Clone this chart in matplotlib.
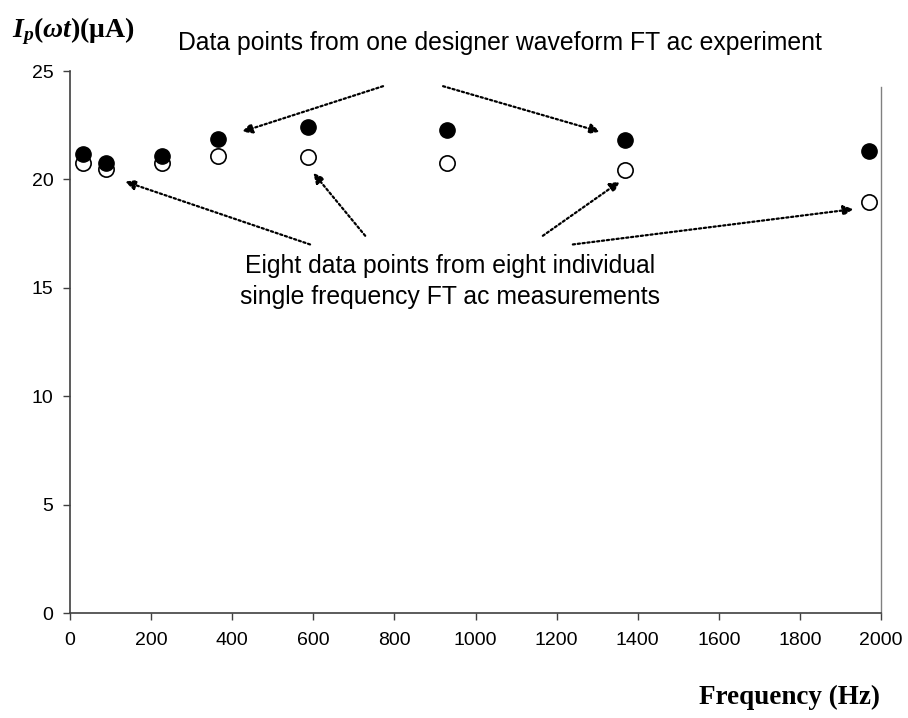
import matplotlib
matplotlib.use("Agg")
import matplotlib.pyplot as plt

plt.rcParams['font.family'] = ['Liberation Sans', 'DejaVu Sans']
plt.rcParams['mathtext.fontset'] = 'custom'
plt.rcParams['mathtext.rm'] = 'Liberation Serif:bold'
plt.rcParams['mathtext.it'] = 'Liberation Serif:bold:italic'
plt.rcParams['mathtext.bf'] = 'Liberation Serif:bold'

# frequencies (Hz) and peak currents (uA)
freq = [32, 88, 227, 366, 588, 930, 1368, 1970]
designer_wave = [21.15, 20.75, 21.1, 21.85, 22.4, 22.3, 21.8, 21.3]
single_freq = [20.75, 20.5, 20.75, 21.1, 21.05, 20.75, 20.45, 18.95]

top_note = "Data points from one designer waveform FT ac experiment"
bottom_note = "Eight data points from eight individual\nsingle frequency FT ac measurements"

fig = plt.figure(figsize=(9.08, 7.18), dpi=100)
ax = fig.add_axes([0.0771, 0.1462, 0.8932, 0.7549])

ax.plot(freq, single_freq, 'o', ms=11, mfc='white', mec='black', mew=1.2, ls='none')
ax.plot(freq, designer_wave, 'o', ms=11, mfc='black', mec='black', ls='none')

ax.set_xlim(0, 2000)
ax.set_ylim(0, 25)
ax.set_xticks(range(0, 2001, 200))
ax.set_yticks(range(0, 26, 5))
ax.tick_params(direction='out', length=5, width=1, color='#404040',
               labelsize=14, pad=7)
ax.tick_params(axis='x', pad=9)

for side in ['left', 'bottom']:
    ax.spines[side].set_color('#404040')
    ax.spines[side].set_linewidth(1.2)
ax.spines['top'].set_visible(False)
ax.spines['right'].set_color('#808080')
ax.spines['right'].set_linewidth(1.0)
ax.spines['right'].set_bounds(0, 24.26)

# labels
fig.text(0.013, 0.957, r'$I_p(\omega t)$' + '(\u03bcA)', fontsize=20,
         family='Liberation Serif', weight='bold', va='center', ha='left')
fig.text(0.969, 0.028, 'Frequency (Hz)', fontsize=19.5,
         family='Liberation Serif', weight='bold', ha='right', va='center')

# notes with dotted arrows
ax.text(1060, 26.3, top_note, fontsize=17.8, ha='center', va='center')
ax.text(937, 15.3, bottom_note, fontsize=17.8, ha='center', va='center',
        linespacing=1.4)

arrow = dict(arrowstyle='-|>', linestyle=(0, (1, 1.2)), lw=1.6, color='black',
             mutation_scale=15, shrinkA=0, shrinkB=0)
top_arrows = [((772, 24.3), (424, 22.2)),
              ((920, 24.3), (1307, 22.2))]
bottom_arrows = [((592, 17.0), (136, 19.9)),
                 ((728, 17.4), (600, 20.3)),
                 ((1166, 17.4), (1356, 19.9)),
                 ((1240, 17.0), (1932, 18.63))]
for start, end in top_arrows + bottom_arrows:
    ax.annotate('', xy=end, xytext=start, arrowprops=arrow,
                annotation_clip=False)

fig.savefig('out.png', dpi=100)
